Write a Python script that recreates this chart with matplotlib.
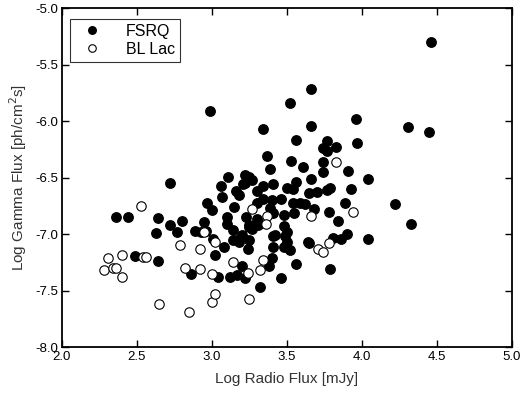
import matplotlib
matplotlib.use("Agg")
import matplotlib.pyplot as plt
import numpy as np

plt.rcParams['font.family'] = ['Liberation Sans', 'DejaVu Sans']

# FSRQ: log radio flux [mJy], log gamma flux
fsrq_x = [4.46, 2.99, 3.66, 3.52, 3.34, 3.66, 3.96, 4.31, 4.45, 3.56,
          3.77, 3.97, 3.74, 3.77, 3.83, 3.37, 3.53, 3.74, 3.39, 3.61,
          3.74, 3.91, 4.04, 3.66, 2.72, 3.11, 3.22, 3.25, 3.27, 3.22,
          3.06, 3.21, 3.34, 3.41, 3.50, 3.56, 3.54, 3.30, 3.16, 3.18,
          3.65, 3.70, 3.77, 3.79, 3.07, 2.97, 3.46, 3.54, 3.59, 3.62,
          3.34, 3.40, 3.30, 3.89, 4.22, 3.93, 3.00, 3.15, 3.39, 3.41,
          3.55, 3.68, 3.78, 2.36, 2.44, 2.64, 2.80, 2.95, 3.10, 3.23,
          3.30, 3.31, 3.48, 3.84, 2.63, 2.72, 2.77, 2.89, 2.93, 2.96,
          3.10, 3.14, 3.25, 3.27, 3.31, 3.48, 3.50, 3.01, 3.14, 3.17,
          3.18, 3.20, 3.25, 3.41, 3.49, 3.50, 3.64, 3.65, 3.81, 3.86,
          3.90, 4.04, 3.08, 3.24, 3.41, 3.48, 3.52, 2.49, 2.64, 3.02,
          3.40, 3.56, 3.20, 3.38, 2.86, 3.04, 3.12, 3.17, 3.22, 3.46,
          3.79, 3.32, 4.33, 3.25, 3.42]
fsrq_y = [-5.30, -5.91, -5.72, -5.84, -6.07, -6.04, -5.98, -6.05, -6.10, -6.17,
          -6.18, -6.19, -6.24, -6.26, -6.23, -6.31, -6.35, -6.36, -6.42, -6.41,
          -6.45, -6.44, -6.51, -6.51, -6.55, -6.49, -6.48, -6.49, -6.52, -6.55,
          -6.57, -6.56, -6.57, -6.56, -6.59, -6.54, -6.60, -6.62, -6.62, -6.65,
          -6.64, -6.63, -6.61, -6.59, -6.67, -6.72, -6.69, -6.72, -6.72, -6.73,
          -6.69, -6.70, -6.72, -6.72, -6.73, -6.60, -6.79, -6.76, -6.77, -6.81,
          -6.81, -6.78, -6.80, -6.85, -6.85, -6.86, -6.88, -6.89, -6.85, -6.85,
          -6.87, -6.90, -6.83, -6.88, -6.99, -6.92, -6.98, -6.97, -6.98, -6.97,
          -6.91, -6.96, -6.94, -6.95, -6.92, -6.93, -6.98, -7.04, -7.05, -7.05,
          -7.07, -7.01, -7.05, -7.02, -7.02, -7.07, -7.07, -7.08, -7.03, -7.04,
          -7.00, -7.04, -7.11, -7.13, -7.11, -7.11, -7.14, -7.19, -7.24, -7.18,
          -7.21, -7.26, -7.28, -7.28, -7.35, -7.38, -7.38, -7.36, -7.39, -7.39,
          -7.31, -7.47, -6.91, -6.92, -7.01]

# BL Lac
bll_x = [3.83, 2.53, 3.27, 3.37, 3.36, 3.66, 3.94, 2.95, 3.02, 2.79,
         2.92, 3.71, 3.74, 3.78, 2.31, 2.40, 2.54, 2.56, 2.28, 2.34,
         2.36, 2.40, 2.82, 2.92, 3.00, 3.14, 3.24, 3.32, 3.34, 2.65,
         2.85, 3.00, 3.02, 3.25]
bll_y = [-6.36, -6.75, -6.78, -6.84, -6.91, -6.84, -6.80, -6.98, -7.07, -7.10,
         -7.13, -7.13, -7.16, -7.08, -7.21, -7.18, -7.20, -7.20, -7.32, -7.30,
         -7.30, -7.38, -7.30, -7.31, -7.35, -7.25, -7.34, -7.32, -7.23, -7.62,
         -7.69, -7.60, -7.53, -7.57]

fig = plt.figure(figsize=(5.25, 4.01), dpi=100)
ax = fig.add_axes([0.118, 0.134, 0.857, 0.846])

ax.plot(fsrq_x, fsrq_y, 'o', color='black', markersize=6.8,
        linestyle='none', label='FSRQ')
ax.plot(bll_x, bll_y, 'o', markerfacecolor='white', markeredgecolor='black',
        markeredgewidth=0.8, markersize=6.8, linestyle='none', label='BL Lac')

ax.set_xlim(2.0, 5.0)
ax.set_ylim(-8.0, -5.0)
ax.set_xticks(np.arange(2.0, 5.01, 0.5))
ax.set_yticks(np.arange(-8.0, -4.99, 0.5))
ax.xaxis.set_major_formatter(plt.FormatStrFormatter('%.1f'))
ax.yaxis.set_major_formatter(plt.FormatStrFormatter('%.1f'))
ax.tick_params(direction='in', top=True, right=True, length=5, width=1,
               labelsize=9.5, pad=3)
for s in ax.spines.values():
    s.set_linewidth(1.3)

ax.set_xlabel('Log Radio Flux [mJy]', fontsize=11, color='#333333', labelpad=6)
ax.set_ylabel('Log Gamma Flux [ph/cm$^2$s]', fontsize=11, color='#333333',
              labelpad=4)

leg = ax.legend(loc='upper left', fontsize=11.5, frameon=True, fancybox=False,
                edgecolor='black', borderpad=0.3, handletextpad=1.0,
                labelspacing=0.2, markerscale=0.8, borderaxespad=0,
                handlelength=2.2, bbox_to_anchor=(0.018, 0.968))
leg.get_frame().set_linewidth(0.8)

fig.savefig('out.png', dpi=100)
